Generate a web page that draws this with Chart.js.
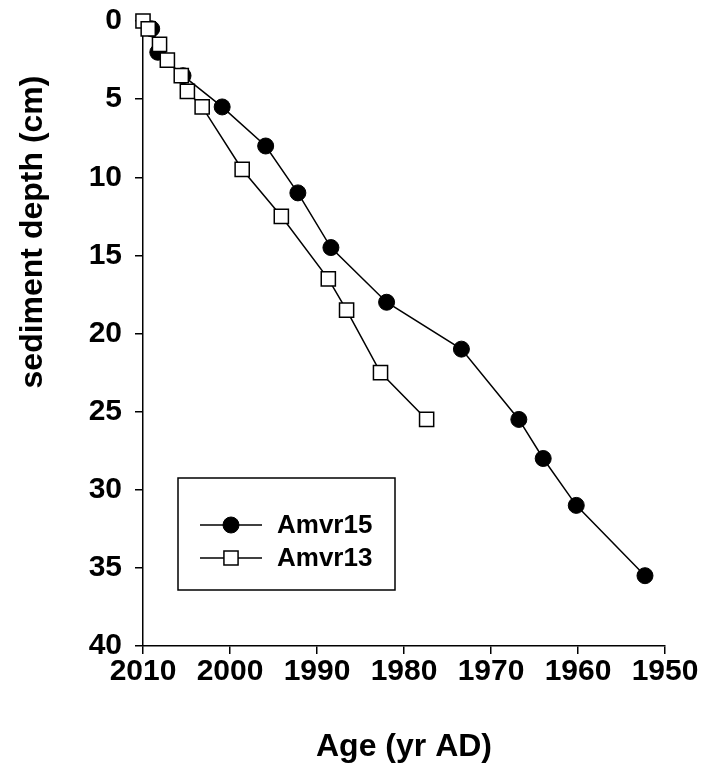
<!DOCTYPE html>
<html>
<head>
<meta charset="utf-8">
<script src="https://cdn.jsdelivr.net/npm/chart.js@4"></script>
<style>
  body { margin: 0; background: #fff; }
  #wrap { width: 703px; height: 770px; }
</style>
</head>
<body>
<div id="wrap"><canvas id="depthChart" width="703" height="770"></canvas></div>
<script>
// Age-depth data
const amvr15Age = [2009, 2008.3, 2005.4, 2000.9, 1995.9, 1992.2, 1988.4, 1982, 1973.4, 1966.8, 1964, 1960.2, 1952.3];
const amvr15Depth = [0.5, 2, 3.5, 5.5, 8, 11, 14.5, 18, 21, 25.5, 28, 31, 35.5];

const amvr13Age = [2010, 2009.4, 2008.1, 2007.2, 2005.6, 2004.9, 2003.2, 1998.6, 1994.1, 1988.7, 1986.6, 1982.7, 1977.4];
const amvr13Depth = [0, 0.5, 1.5, 2.5, 3.5, 4.5, 5.5, 9.5, 12.5, 16.5, 18.5, 22.5, 25.5];

const xTicks = [2010, 2000, 1990, 1980, 1970, 1960, 1950];
const yTicks = [0, 5, 10, 15, 20, 25, 30, 35, 40];

const FONT = 'Liberation Sans, Arial, sans-serif';

function toPoints(xs, ys) {
  return xs.map((x, i) => ({ x: x, y: ys[i] }));
}

// Boxed legend with line-marker-line symbols, plus the y title (sits high, as in the figure)
const boxLegend = {
  id: 'boxLegend',
  afterDraw(chart) {
    const ctx = chart.ctx;
    const box = { x: 178, y: 478, w: 217, h: 112 };
    ctx.save();
    ctx.strokeStyle = '#000';
    ctx.lineWidth = 1.5;
    ctx.strokeRect(box.x, box.y, box.w, box.h);
    ctx.font = 'bold 26px ' + FONT;
    ctx.textBaseline = 'middle';
    const rows = [525, 558];
    chart.data.datasets.forEach((ds, i) => {
      const y = rows[i];
      ctx.beginPath();
      ctx.moveTo(200, y);
      ctx.lineTo(262, y);
      ctx.lineWidth = 1.5;
      ctx.strokeStyle = '#000';
      ctx.stroke();
      ctx.fillStyle = ds.pointBackgroundColor;
      ctx.lineWidth = ds.pointBorderWidth;
      ctx.beginPath();
      if (ds.pointStyle === 'rect') {
        const s = ds.pointRadius * Math.SQRT1_2;
        ctx.rect(231 - s, y - s, 2 * s, 2 * s);
      } else {
        ctx.arc(231, y, ds.pointRadius, 0, Math.PI * 2);
      }
      ctx.fill();
      ctx.stroke();
      ctx.fillStyle = '#000';
      ctx.fillText(ds.label, 277, y + 1);
    });

    // y axis title
    ctx.translate(33, 232);
    ctx.rotate(-Math.PI / 2);
    ctx.textAlign = 'center';
    ctx.font = 'bold 32px ' + FONT;
    ctx.fillText('sediment depth (cm)', 0, 0);
    ctx.restore();
  }
};

const ctx = document.getElementById('depthChart').getContext('2d');
const chart = new Chart(ctx, {
  type: 'line',
  data: {
    datasets: [
      {
        label: 'Amvr15',
        data: toPoints(amvr15Age, amvr15Depth),
        borderColor: '#000',
        borderWidth: 1.5,
        pointStyle: 'circle',
        pointRadius: 8,
        pointBorderWidth: 1,
        pointBackgroundColor: '#000',
        pointBorderColor: '#000',
        order: 1,
        clip: false
      },
      {
        label: 'Amvr13',
        data: toPoints(amvr13Age, amvr13Depth),
        borderColor: '#000',
        borderWidth: 1.5,
        pointStyle: 'rect',
        pointRadius: 10,
        pointBorderWidth: 1.5,
        pointBackgroundColor: '#fff',
        pointBorderColor: '#000',
        order: 0,
        clip: false
      }
    ]
  },
  options: {
    responsive: false,
    animation: false,
    layout: { padding: { top: 21, right: 38, left: 0, bottom: 0 } },
    scales: {
      x: {
        type: 'linear',
        reverse: true,
        min: 1950,
        max: 2010,
        afterBuildTicks: s => { s.ticks = xTicks.map(v => ({ value: v })); },
        afterFit: s => { s.height = 124; },
        grid: { drawOnChartArea: false, color: '#000', lineWidth: 1.5, tickLength: 8 },
        border: { color: '#000', width: 1.5 },
        ticks: { color: '#000', font: { family: FONT, size: 30, weight: 'bold' }, padding: 0, maxRotation: 0, callback: v => String(v) },
        title: { display: true, text: 'Age (yr AD)', color: '#000', font: { family: FONT, size: 32, weight: 'bold' }, padding: { top: 30 } }
      },
      y: {
        type: 'linear',
        reverse: true,
        min: 0,
        max: 40,
        afterBuildTicks: s => { s.ticks = yTicks.map(v => ({ value: v })); },
        afterFit: s => { s.width = 143; s.paddingTop = 0; s.paddingBottom = 0; },
        grid: { drawOnChartArea: false, color: '#000', lineWidth: 1.5, tickLength: 8 },
        border: { color: '#000', width: 1.5 },
        ticks: { color: '#000', font: { family: FONT, size: 30, weight: 'bold' }, padding: 13, callback: v => String(v) }
      }
    },
    plugins: {
      legend: { display: false },
      tooltip: { enabled: false }
    }
  },
  plugins: [boxLegend]
});
</script>
</body>
</html>
